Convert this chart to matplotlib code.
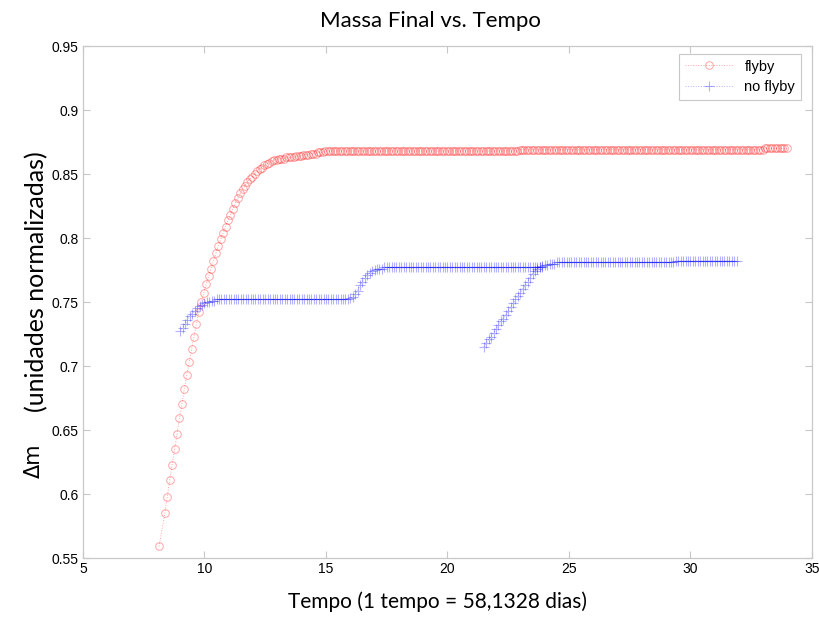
import numpy as np
import matplotlib
matplotlib.use('Agg')
import matplotlib.pyplot as plt

# flyby: massa final
x_flyby = [8.13] + list(np.round(np.arange(8.37, 34.0, 0.1), 2))
y_flyby = [
    0.559,
    0.585, 0.598, 0.611, 0.623, 0.635, 0.647, 0.659,
    0.670, 0.682, 0.693, 0.703, 0.713, 0.723, 0.733, 0.742, 0.750, 0.757,
    0.764, 0.770, 0.776, 0.782, 0.788, 0.794, 0.799, 0.804, 0.809, 0.814,
    0.818, 0.823, 0.827, 0.831, 0.835, 0.838, 0.841, 0.844, 0.846, 0.848,
    0.850, 0.852, 0.854, 0.855, 0.857, 0.858, 0.859, 0.860, 0.861, 0.861,
    0.862, 0.862, 0.862, 0.863, 0.863, 0.863, 0.863, 0.864, 0.864, 0.864,
    0.865, 0.865, 0.865, 0.866, 0.866, 0.866, 0.867, 0.867, 0.867, 0.868,
    0.868, 0.868, 0.868, 0.868, 0.868, 0.868, 0.868, 0.868, 0.868, 0.868,
    0.868, 0.868, 0.868, 0.868, 0.868, 0.868, 0.868, 0.868, 0.868, 0.868,
    0.868, 0.868, 0.868, 0.868, 0.868, 0.868, 0.868, 0.868, 0.868, 0.868,
    0.868, 0.868, 0.868, 0.868, 0.868, 0.868, 0.868, 0.868, 0.868, 0.868,
    0.868, 0.868, 0.868, 0.868, 0.868, 0.868, 0.868, 0.868, 0.868, 0.868,
    0.868, 0.868, 0.868, 0.868, 0.868, 0.868, 0.868, 0.868, 0.868, 0.868,
    0.868, 0.868, 0.868, 0.868, 0.868, 0.868, 0.868, 0.868, 0.868, 0.868,
    0.868, 0.868, 0.868, 0.868, 0.868, 0.868, 0.868, 0.868, 0.868,
    0.869, 0.869, 0.869, 0.869, 0.869, 0.869, 0.869, 0.869, 0.869, 0.869,
    0.869, 0.869, 0.869, 0.869, 0.869, 0.869, 0.869, 0.869, 0.869, 0.869,
    0.869, 0.869, 0.869, 0.869, 0.869, 0.869, 0.869, 0.869, 0.869, 0.869,
    0.869, 0.869, 0.869, 0.869, 0.869, 0.869, 0.869, 0.869, 0.869, 0.869,
    0.869, 0.869, 0.869, 0.869, 0.869, 0.869, 0.869, 0.869, 0.869, 0.869,
    0.869, 0.869, 0.869, 0.869, 0.869, 0.869, 0.869, 0.869, 0.869, 0.869,
    0.869, 0.869, 0.869, 0.869, 0.869, 0.869, 0.869, 0.869, 0.869, 0.869,
    0.869, 0.869, 0.869, 0.869, 0.869, 0.869, 0.869, 0.869, 0.869, 0.869,
    0.869, 0.869, 0.869, 0.869, 0.869, 0.869, 0.869, 0.869, 0.869, 0.869,
    0.869, 0.869, 0.869, 0.869, 0.869, 0.869, 0.869, 0.869, 0.869, 0.869,
    0.869,
    0.870, 0.870, 0.870, 0.870, 0.870, 0.870, 0.870, 0.870, 0.870, 0.870,
]

# no flyby, primeiro ramo
x_noflyby1 = np.round(np.arange(9.0, 23.95, 0.1), 1)
y_noflyby1 = [
    0.727, 0.730, 0.733, 0.736, 0.739, 0.741, 0.743, 0.745, 0.747, 0.748,
    0.749, 0.750, 0.750, 0.751, 0.751, 0.752, 0.752, 0.752, 0.752, 0.752,
    0.752, 0.752, 0.752, 0.752, 0.752, 0.752, 0.752, 0.752, 0.752, 0.752,
    0.752, 0.752, 0.752, 0.752, 0.752, 0.752, 0.752, 0.752, 0.752, 0.752,
    0.752, 0.752, 0.752, 0.752, 0.752, 0.752, 0.752, 0.752, 0.752, 0.752,
    0.752, 0.752, 0.752, 0.752, 0.752, 0.752, 0.752, 0.752, 0.752, 0.752,
    0.752, 0.752, 0.752, 0.752, 0.752, 0.752, 0.752, 0.752, 0.752, 0.752,
    0.753, 0.754, 0.756, 0.759, 0.763, 0.766, 0.769, 0.771, 0.773, 0.774,
    0.775, 0.776, 0.776, 0.776, 0.777, 0.777, 0.777, 0.777, 0.777, 0.777,
    0.777, 0.777, 0.777, 0.777, 0.777, 0.777, 0.777, 0.777, 0.777, 0.777,
    0.777, 0.777, 0.777, 0.777, 0.777, 0.777, 0.777, 0.777, 0.777, 0.777,
    0.777, 0.777, 0.777, 0.777, 0.777, 0.777, 0.777, 0.777, 0.777, 0.777,
    0.777, 0.777, 0.777, 0.777, 0.777, 0.777, 0.777, 0.777, 0.777, 0.777,
    0.777, 0.777, 0.777, 0.777, 0.777, 0.777, 0.777, 0.777, 0.777, 0.777,
    0.777, 0.777, 0.777, 0.777, 0.777, 0.777, 0.777, 0.777, 0.777, 0.777,
]

# no flyby, segundo ramo
x_noflyby2 = np.round(np.arange(21.5, 31.95, 0.1), 1)
y_noflyby2 = [
    0.715, 0.718, 0.721, 0.723, 0.726,
    0.729, 0.732, 0.735, 0.737, 0.740, 0.743, 0.746, 0.749, 0.752, 0.755,
    0.757, 0.760, 0.763, 0.766, 0.769, 0.772, 0.774, 0.776, 0.777, 0.778,
    0.779, 0.779, 0.780, 0.780, 0.780,
    0.781, 0.781, 0.781, 0.781, 0.781, 0.781, 0.781, 0.781, 0.781, 0.781,
    0.781, 0.781, 0.781, 0.781, 0.781, 0.781, 0.781, 0.781, 0.781, 0.781,
    0.781, 0.781, 0.781, 0.781, 0.781, 0.781, 0.781, 0.781, 0.781, 0.781,
    0.781, 0.781, 0.781, 0.781, 0.781, 0.781, 0.781, 0.781, 0.781, 0.781,
    0.781, 0.781, 0.781, 0.781, 0.781, 0.781, 0.781, 0.781, 0.781,
    0.782, 0.782, 0.782, 0.782, 0.782, 0.782, 0.782, 0.782, 0.782, 0.782,
    0.782, 0.782, 0.782, 0.782, 0.782, 0.782, 0.782, 0.782, 0.782, 0.782,
    0.782, 0.782, 0.782, 0.782, 0.782, 0.782,
]

x_ticks = [5, 10, 15, 20, 25, 30, 35]
y_ticks = [0.55, 0.6, 0.65, 0.7, 0.75, 0.8, 0.85, 0.9, 0.95]
y_ticklabels = ['0.55', '0.6', '0.65', '0.7', '0.75', '0.8', '0.85', '0.9', '0.95']

fig = plt.figure(figsize=(8.19, 6.17), dpi=100)
ax = fig.add_axes([0.1013, 0.0956, 0.8901, 0.8298])

ax.plot(x_flyby, y_flyby, color='red', alpha=0.35, linestyle=':', linewidth=0.7,
        marker='o', markersize=5.5, markerfacecolor='none', markeredgewidth=0.7,
        label='flyby')

x_nf = np.concatenate([x_noflyby1, [np.nan], x_noflyby2])
y_nf = np.concatenate([y_noflyby1, [np.nan], y_noflyby2])
ax.plot(x_nf, y_nf, color='blue', alpha=0.3, linestyle=':', linewidth=0.7,
        marker='+', markersize=6.5, markeredgewidth=0.8, label='no flyby')

ax.set_xlim(5, 35)
ax.set_ylim(0.55, 0.95)
ax.set_xticks(x_ticks)
ax.set_xticklabels([str(t) for t in x_ticks], family='Liberation Sans', fontsize=10)
ax.set_yticks(y_ticks)
ax.set_yticklabels(y_ticklabels, family='Liberation Sans', fontsize=10)
ax.tick_params(direction='in', length=5, width=0.8, color='#c8c8c8',
               top=True, right=True, pad=3)
for s in ax.spines.values():
    s.set_color('#c8c8c8')
    s.set_linewidth(0.9)

leg = ax.legend(loc='upper right', bbox_to_anchor=(0.985, 0.985),
                borderaxespad=0,
                prop={'family': 'Liberation Sans', 'size': 10.5},
                fancybox=False, framealpha=1, edgecolor='#c8c8c8',
                handlelength=3.3, labelspacing=0.45)
leg.get_frame().set_linewidth(0.8)

fig.text(0.525, 0.966, 'Massa Final vs. Tempo', ha='center', va='center',
         family='Lato', fontsize=16)
fig.text(0.534, 0.024, 'Tempo (1 tempo = 58,1328 dias)', ha='center', va='center',
         family='Lato', fontsize=15)
fig.text(0.041, 0.253, '\u0394m', rotation=90, ha='center', va='center',
         family='DejaVu Sans', fontsize=15)
fig.text(0.045, 0.544, '(unidades normalizadas)', rotation=90, ha='center',
         va='center', family='Lato', fontsize=18)

fig.savefig('out.png', dpi=100)
